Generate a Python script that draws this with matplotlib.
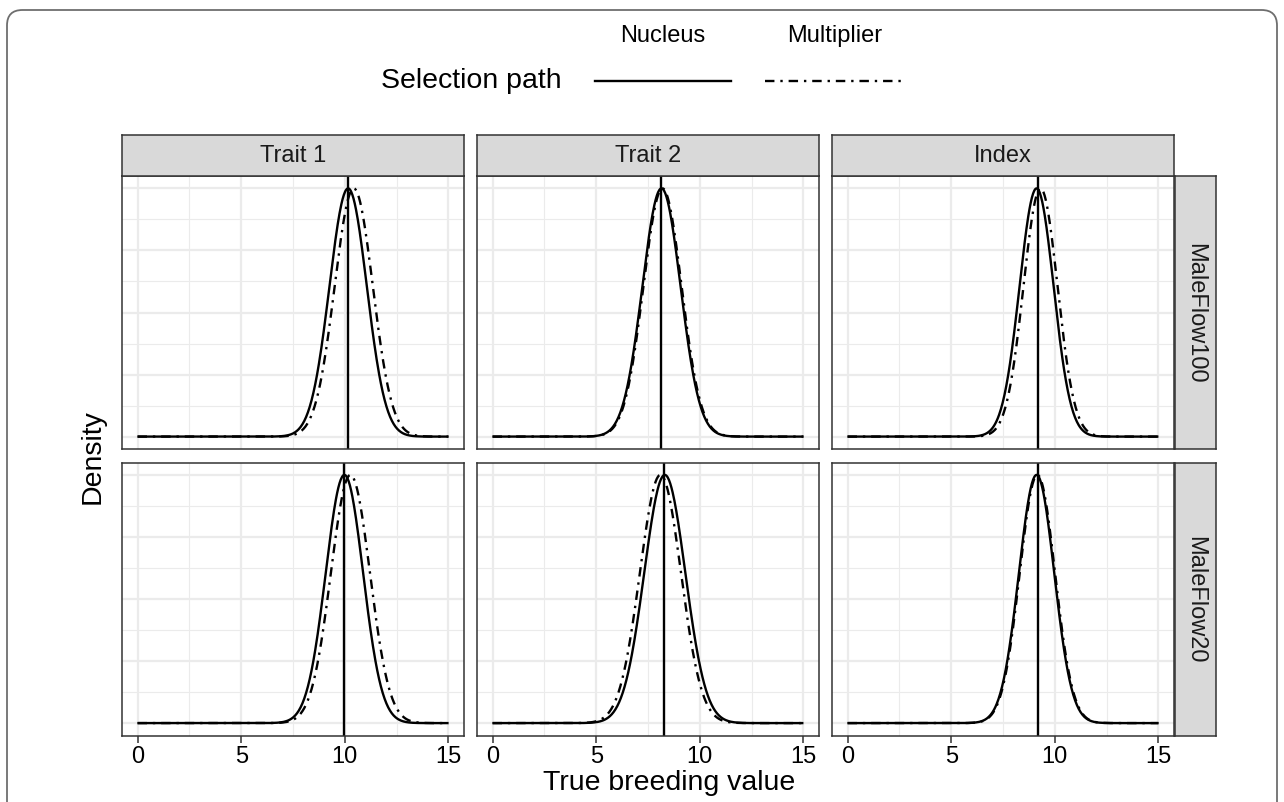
import numpy as np
import matplotlib
matplotlib.use("Agg")
import matplotlib.pyplot as plt
from matplotlib.lines import Line2D
from matplotlib.patches import FancyBboxPatch
from matplotlib.ticker import MultipleLocator

plt.rcParams['font.family'] = ['Liberation Sans', 'DejaVu Sans']

traits = ['Trait 1', 'Trait 2', 'Index']
scenarios = ['MaleFlow100', 'MaleFlow20']
paths = ['Nucleus', 'Multiplier']

# mean / sd of true breeding value (rows = scenario, cols = trait)
nucleus_mean = [[10.16, 8.15, 9.12], [9.98, 8.31, 9.12]]
nucleus_sd = [[0.90, 0.92, 0.82], [0.90, 0.99, 0.85]]
multiplier_mean = [[10.43, 8.20, 9.31], [10.27, 8.10, 9.16]]
multiplier_sd = [[0.92, 0.92, 0.82], [0.94, 0.99, 0.85]]
vline_x = [[10.16, 8.15, 9.17], [9.95, 8.28, 9.17]]

x_ticks = [0, 5, 10, 15]
x_range = (0, 15)

W, H = 1284, 803
fig = plt.figure(figsize=(W / 100, H / 100), dpi=100)

def box(x0, y0, w, h):
    # pixel box (top-left origin) -> figure fraction
    return [x0 / W, 1 - (y0 + h) / H, w / W, h / H]

# outer rounded frame
frame = FancyBboxPatch((7 / W, -0.05), (1277 - 7) / W, 1 - 11 / H + 0.05,
                       boxstyle="round,pad=0,rounding_size=0.012",
                       transform=fig.transFigure, fill=False,
                       edgecolor='#6e6e6e', linewidth=1.3, mutation_aspect=W / H)
fig.add_artist(frame)

col_left = [122, 477, 832]
row_top = [177, 463.5]
pw, ph = 342, 273
strip = 41

grid_col = '#ebebeb'
edge_col = '#333333'
strip_fill = '#d9d9d9'
small = 17
big = 20.5

xs = np.linspace(x_range[0], x_range[1], 512)
styles = {'Nucleus': '-', 'Multiplier': (0, (4, 2.5, 1, 2.5))}

for r, scen in enumerate(scenarios):
    for c, trait in enumerate(traits):
        ax = fig.add_axes(box(col_left[c], row_top[r], pw, ph))
        for p, (mu, sd) in zip(paths, [(nucleus_mean, nucleus_sd),
                                       (multiplier_mean, multiplier_sd)]):
            dens = np.exp(-0.5 * ((xs - mu[r][c]) / sd[r][c]) ** 2)
            ax.plot(xs, dens, color='black', lw=1.7, linestyle=styles[p],
                    solid_capstyle='butt')
        ax.axvline(vline_x[r][c], color='black', lw=1.7)
        ax.set_xlim(-0.75, 15.75)
        ax.set_ylim(-0.05, 1.05)
        ax.xaxis.set_major_locator(MultipleLocator(5))
        ax.xaxis.set_minor_locator(MultipleLocator(2.5))
        ax.yaxis.set_major_locator(MultipleLocator(0.25))
        ax.yaxis.set_minor_locator(MultipleLocator(0.125))
        ax.grid(which='major', color=grid_col, lw=1.6, zorder=0)
        ax.grid(which='minor', color=grid_col, lw=0.8, zorder=0)
        ax.set_axisbelow(True)
        ax.tick_params(axis='y', which='both', left=False, labelleft=False)
        ax.tick_params(axis='x', which='minor', bottom=False)
        if r == len(scenarios) - 1:
            ax.set_xticks(x_ticks)
            ax.tick_params(axis='x', which='major', length=5, width=1.1,
                           color=edge_col, labelsize=small, pad=1.5,
                           labelcolor='black')
        else:
            ax.tick_params(axis='x', which='major', bottom=False,
                           labelbottom=False)
        for s in ax.spines.values():
            s.set_color(edge_col)
            s.set_linewidth(1.1)

        # top strip
        if r == 0:
            sax = fig.add_axes(box(col_left[c], row_top[0] - strip, pw, strip))
            sax.set_facecolor(strip_fill)
            sax.set_xticks([])
            sax.set_yticks([])
            for s in sax.spines.values():
                s.set_color(edge_col)
                s.set_linewidth(1.1)
            sax.text(0.5, 0.5, trait, ha='center', va='center',
                     fontsize=small, color='#1a1a1a', transform=sax.transAxes)

    # right strip
    rax = fig.add_axes(box(1175, row_top[r], strip, ph))
    rax.set_facecolor(strip_fill)
    rax.set_xticks([])
    rax.set_yticks([])
    for s in rax.spines.values():
        s.set_color(edge_col)
        s.set_linewidth(1.1)
    rax.text(0.5, 0.5, scen, ha='center', va='center', rotation=-90,
             fontsize=small, color='#1a1a1a', transform=rax.transAxes)

# axis titles
fig.text(669 / W, 1 - 783 / H, 'True breeding value', ha='center', va='center',
         fontsize=big)
fig.text(93 / W, 1 - 457 / H, 'Density', ha='center', va='center',
         fontsize=big, rotation=90)

# legend on top
fig.text(381 / W, 1 - 81 / H, 'Selection path', ha='left', va='center',
         fontsize=big)
key_x = [(595, 731), (765, 904)]
for p, (k0, k1) in zip(paths, key_x):
    fig.add_artist(Line2D([k0 / W, k1 / W], [1 - 82 / H, 1 - 82 / H],
                          transform=fig.transFigure, color='black', lw=1.7,
                          linestyle=styles[p]))
    fig.text((k0 + k1) / 2 / W, 1 - 36 / H, p, ha='center', va='center',
             fontsize=small)

fig.savefig('out.png', dpi=100)
